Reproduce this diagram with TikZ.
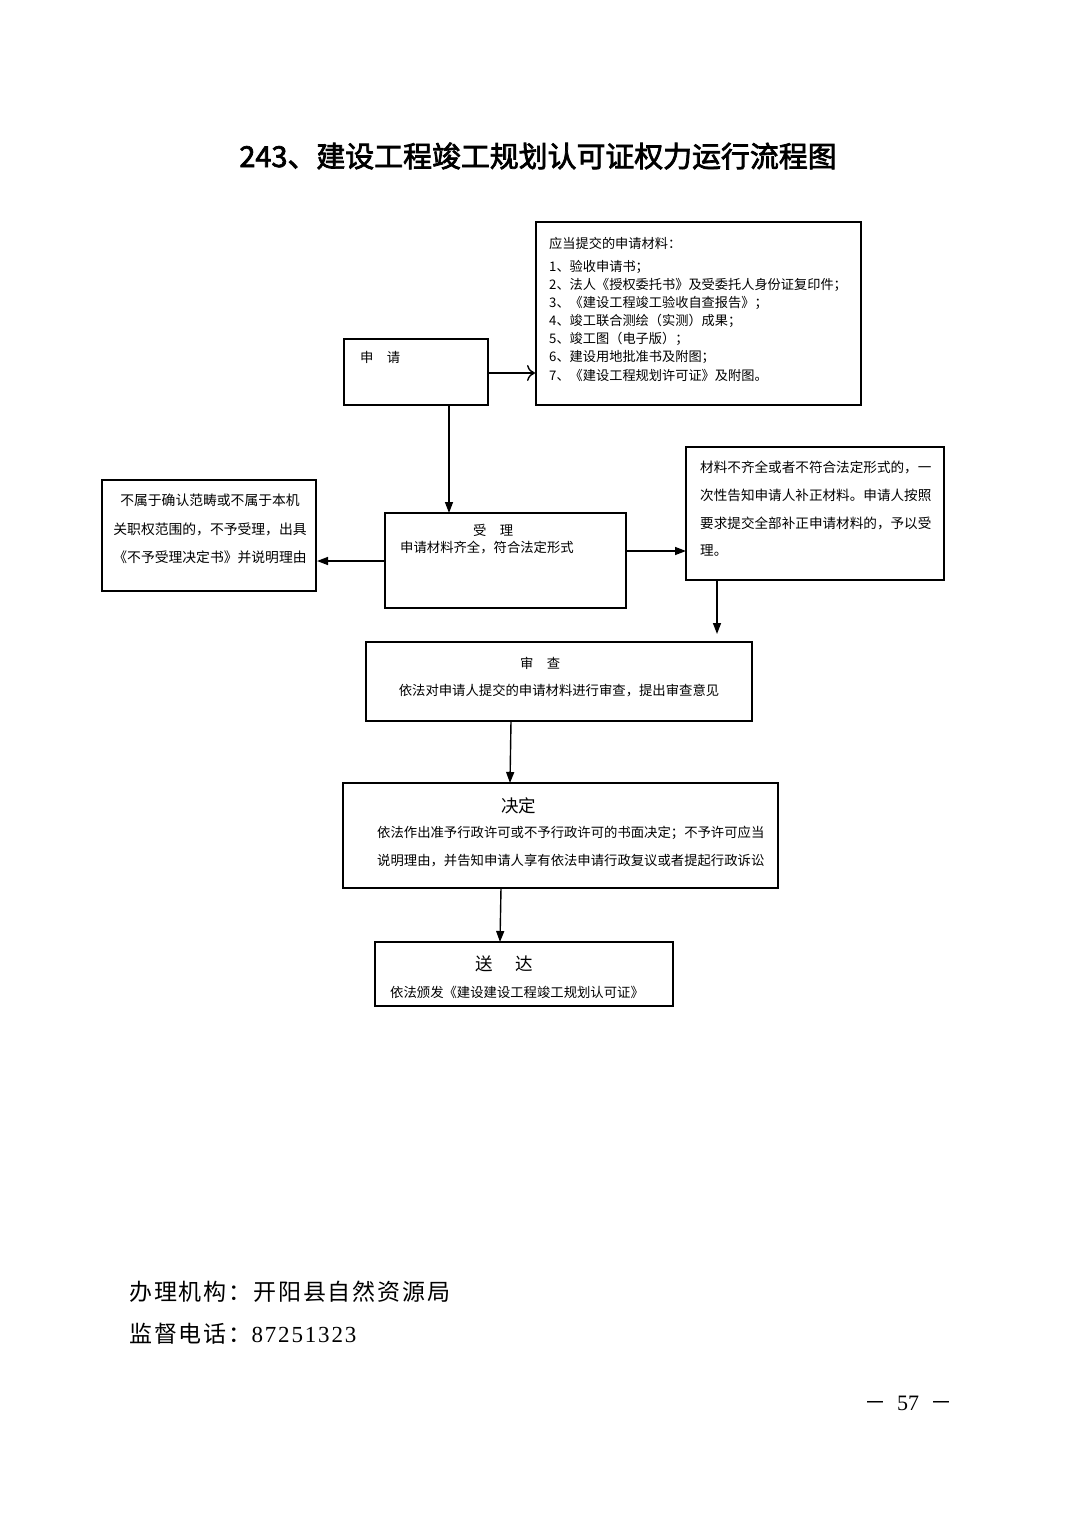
\documentclass[tikz,border=0pt]{standalone}
\usepackage{fontspec}
\setmainfont{Liberation Serif}
\newfontfamily\cjk{Noto Sans CJK SC}
\newfontfamily\cjkb[FakeBold=2.5]{Noto Sans CJK SC}
\usetikzlibrary{arrows.meta}
\begin{document}
\begin{tikzpicture}[x=1pt,y=-1pt,
  box/.style={draw,line width=1.3pt,inner sep=0pt},
  txt/.style={font=\cjk\fontsize{13.35}{13.35}\selectfont,inner sep=0pt,anchor=west},
  mat/.style={font=\cjk\fontsize{13.2}{13.2}\selectfont,inner sep=0pt,anchor=west},
  arr/.style={line width=1.4pt,-{Triangle[length=11pt,width=8pt]}},
  oarr/.style={line width=1.4pt,-{To[length=8pt,width=16pt]}}]
\useasboundingbox (0,0) rectangle (1074,1520);
\fill[white] (0,0) rectangle (1074,1520);
% title
\node[font=\cjkb\fontsize{28.9}{28.9}\selectfont,inner sep=0pt] (title) at (538,156) {243、建设工程竣工规划认可证权力运行流程图};
% apply
\draw[box] (344,339) rectangle (488,405);
\coordinate (sqTR) at (488,373);
\coordinate (sqB) at (449,405);
\node[txt] (sqt) at (360,357) {申\hspace{1em}请};
% materials
\draw[box] (536,222) rectangle (861,405);
\coordinate (matL) at (535,373);
\node[mat] (m0) at (549,243) {应当提交的申请材料：};
\node[mat] (m1) at (549,267) {1、验收申请书；};
\node[mat] (m2) at (549,285) {2、法人《授权委托书》及受委托人身份证复印件；};
\node[mat] (m3) at (549,303) {3、《建设工程竣工验收自查报告》；};
\node[mat] (m4) at (549,321) {4、竣工联合测绘（实测）成果；};
\node[mat] (m5) at (549,339) {5、竣工图（电子版）；};
\node[mat] (m6) at (549,357) {6、建设用地批准书及附图；};
\node[mat] (m7) at (549,375) {7、《建设工程规划许可证》及附图。};
% accept
\draw[box] (385,513) rectangle (626,608);
\coordinate (slT) at (449,513);
\coordinate (slL) at (385,561);
\coordinate (slR) at (626,551);
\node[txt] (slt) at (473,530) {受\hspace{1em}理};
\node[txt] (sl2) at (400,548) {申请材料齐全，符合法定形式};
% left box
\draw[box] (102,480) rectangle (316,591);
\coordinate (lbR) at (317,561);
\node[txt,anchor=center,font=\cjk\fontsize{13.8}{13.8}\selectfont] (l1) at (210,500) {不属于确认范畴或不属于本机};
\node[txt,anchor=center,font=\cjk\fontsize{13.8}{13.8}\selectfont] (l2) at (210,529) {关职权范围的，不予受理，出具};
\node[txt,anchor=center,font=\cjk\fontsize{13.8}{13.8}\selectfont] (l3) at (210,557) {《不予受理决定书》并说明理由};
% right box
\draw[box] (686,447) rectangle (944,580);
\coordinate (rbL) at (686,551);
\coordinate (rbB) at (717,580);
\coordinate (rbE) at (717,634);
\node[txt,font=\cjk\fontsize{13.6}{13.6}\selectfont] (r1) at (700,467) {材料不齐全或者不符合法定形式的，一};
\node[txt,font=\cjk\fontsize{13.6}{13.6}\selectfont] (r2) at (700,495) {次性告知申请人补正材料。申请人按照};
\node[txt,font=\cjk\fontsize{13.6}{13.6}\selectfont] (r3) at (700,523) {要求提交全部补正申请材料的，予以受};
\node[txt,font=\cjk\fontsize{13.6}{13.6}\selectfont] (r4) at (700,551) {理。};
% review
\draw[box] (366,642) rectangle (752,721);
\coordinate (scB) at (511,721);
\node[txt] (sct) at (520,663) {审\hspace{1em}查};
\node[txt,anchor=center] (sc2) at (559,691) {依法对申请人提交的申请材料进行审查，提出审查意见};
% decision
\draw[box] (343,783) rectangle (778,888);
\coordinate (jdT) at (510,783);
\coordinate (jdB) at (501,888);
\node[txt,font=\cjk\fontsize{17.5}{17.5}\selectfont] (jdt) at (501,806) {决定};
\node[txt] (jd2) at (377,833) {依法作出准予行政许可或不予行政许可的书面决定；不予许可应当};
\node[txt] (jd3) at (377,861) {说明理由，并告知申请人享有依法申请行政复议或者提起行政诉讼};
% delivery
\draw[box] (375,942) rectangle (673,1006);
\coordinate (sdT) at (500,942);
\node[txt,font=\cjk\fontsize{17.5}{17.5}\selectfont] (sdt) at (475,964) {送\hspace{1.3em}达};
\node[txt] (sd2) at (390,992) {依法颁发《建设建设工程竣工规划认可证》};
% arrows
\draw[oarr] (sqTR) -- (matL);
\draw[arr] (sqB) -- (slT);
\draw[arr] (slL) -- (lbR);
\draw[arr] (slR) -- (rbL);
\draw[arr] (rbB) -- (rbE);
\draw[arr] (scB) -- (jdT);
\draw[arr] (jdB) -- (sdT);
% footer
\node[inner sep=0pt,anchor=west,font=\cjk\fontsize{23}{23}\selectfont\addfontfeature{LetterSpace=8}] (f1) at (129,1292) {办理机构：开阳县自然资源局};
\node[inner sep=0pt,anchor=west,font=\fontsize{23}{23}\selectfont] (f2) at (129,1334) {{\cjk\addfontfeature{LetterSpace=8}监督电话：}\addfontfeature{LetterSpace=8}87251323};
\node[inner sep=0pt,font=\fontsize{22}{22}\selectfont] (pg) at (908,1403) {{\cjk －}\hspace{0.5em}57\hspace{0.5em}{\cjk －}};
\end{tikzpicture}
\end{document}
